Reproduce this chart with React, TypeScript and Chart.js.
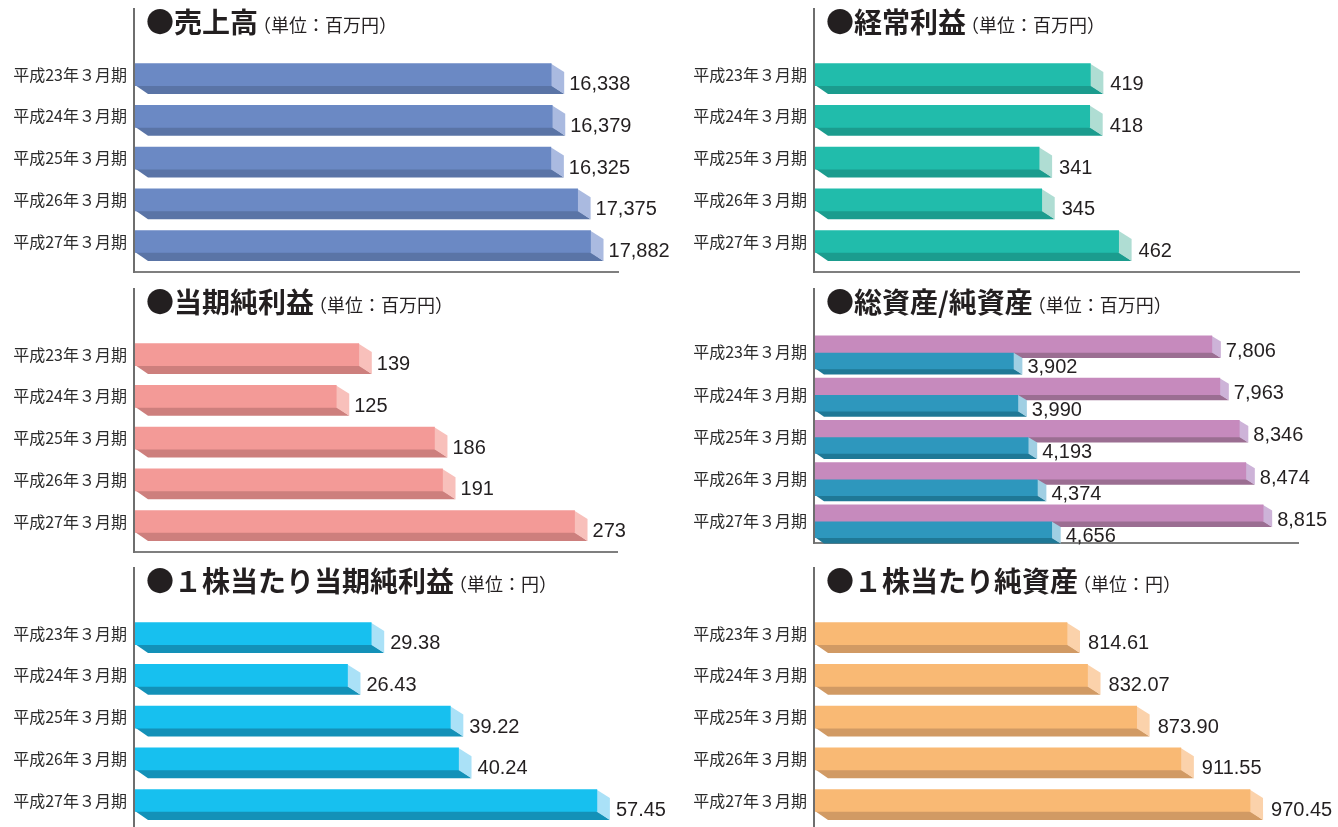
import React, { useEffect, useRef } from "react";
import { Chart, registerables } from "chart.js";

Chart.register(...registerables);

// ---------- data ----------
const periods = ["平成23年３月期", "平成24年３月期", "平成25年３月期", "平成26年３月期", "平成27年３月期"];
const sales = [16338, 16379, 16325, 17375, 17882];
const ordinaryIncome = [419, 418, 341, 345, 462];
const netIncome = [139, 125, 186, 191, 273];
const totalAssets = [7806, 7963, 8346, 8474, 8815];
const netAssets = [3902, 3990, 4193, 4374, 4656];
const epsValues = [29.38, 26.43, 39.22, 40.24, 57.45];
const bpsValues = [814.61, 832.07, 873.9, 911.55, 970.45];

const titles = ["●売上高", "●経常利益", "●当期純利益", "●総資産/純資産", "●１株当たり当期純利益", "●１株当たり純資産"];
const units = ["（単位：百万円）", "（単位：百万円）", "（単位：百万円）", "（単位：百万円）", "（単位：円）", "（単位：円）"];

// ---------- styles / layout ----------
type Series = { label: string; data: number[]; front: string; side: string; bottom: string };
type PanelCfg = {
  left: number;
  top: number;
  axisX: number;
  plotRight: number;
  title: string;
  unit: string;
  series: Series[];
  min: number;
  max: number;
  barThickness: number;
  dx: number;
  dy: number;
  decimals: number;
  bandTop: number;
  bandBottom: number;
  lineY: number;
  gap: number;
};

const W = 669;
const H = 280;

const panels: PanelCfg[] = [
  {
    left: 0, top: 0, axisX: 135, plotRight: 619, title: titles[0], unit: units[0],
    series: [{ label: "売上高", data: sales, front: "#6b89c4", side: "#aabae0", bottom: "#5a74a6" }],
    min: 0, max: 19000, barThickness: 22, dx: 13, dy: 8.5, decimals: 0,
    bandTop: 53.75, bandBottom: 266.25, lineY: 272, gap: 5,
  },
  {
    left: W, top: 0, axisX: 815, plotRight: 1300, title: titles[1], unit: units[1],
    series: [{ label: "経常利益", data: ordinaryIncome, front: "#21bcab", side: "#afddd3", bottom: "#1b9c8e" }],
    min: 0, max: 738, barThickness: 22, dx: 13, dy: 8.5, decimals: 0,
    bandTop: 53.75, bandBottom: 266.25, lineY: 272, gap: 7,
  },
  {
    left: 0, top: 280, axisX: 135, plotRight: 618, title: titles[2], unit: units[2],
    series: [{ label: "当期純利益", data: netIncome, front: "#f39a97", side: "#f8c0bb", bottom: "#cd7f7d" }],
    min: 0, max: 300, barThickness: 22, dx: 13, dy: 8.5, decimals: 0,
    bandTop: 53.75, bandBottom: 266.25, lineY: 272, gap: 5,
  },
  {
    left: W, top: 280, axisX: 815, plotRight: 1299, title: titles[3], unit: units[3],
    series: [
      { label: "総資産", data: totalAssets, front: "#c68abd", side: "#cdb3d8", bottom: "#9b6e92" },
      { label: "純資産", data: netAssets, front: "#2e97bd", side: "#a0cfe3", bottom: "#1f7896" },
    ],
    min: 0, max: 9520, barThickness: 16.5, dx: 9, dy: 5.7, decimals: 0,
    bandTop: 51.25, bandBottom: 263.75, lineY: 263, gap: 5,
  },
  {
    left: 0, top: 559, axisX: 135, plotRight: 619, title: titles[4], unit: units[4],
    series: [{ label: "EPS", data: epsValues, front: "#17c0ef", side: "#aae1f7", bottom: "#1391b8" }],
    min: 0, max: 60.2, barThickness: 22, dx: 13, dy: 8.5, decimals: 2,
    bandTop: 53.75, bandBottom: 266.25, lineY: 272, gap: 6,
  },
  {
    left: W, top: 559, axisX: 815, plotRight: 1300, title: titles[5], unit: units[5],
    series: [{ label: "BPS", data: bpsValues, front: "#f9b974", side: "#fbd2ab", bottom: "#d19a64" }],
    min: 600, max: 1013, barThickness: 22, dx: 13, dy: 8.5, decimals: 2,
    bandTop: 53.75, bandBottom: 266.25, lineY: 272, gap: 8,
  },
];

const CJK = '"Noto Sans CJK JP", "Noto Sans CJK SC", sans-serif';
const LATIN = '"Liberation Sans", Arial, Helvetica, sans-serif';

function fmt(v: number, decimals: number) {
  return v.toLocaleString("en-US", { minimumFractionDigits: decimals, maximumFractionDigits: decimals });
}

function makePlugin(cfg: PanelCfg) {
  const axisRel = cfg.axisX - cfg.left;
  return {
    id: "bars3d",
    beforeDatasetsDraw(chart: any) {
      const ctx = chart.ctx;
      const area = chart.chartArea;
      ctx.save();
      // bottom line (drawn under the bars)
      ctx.strokeStyle = "#555";
      ctx.lineWidth = 1.5;
      ctx.beginPath();
      ctx.moveTo(axisRel - 2, cfg.lineY);
      ctx.lineTo(area.right, cfg.lineY);
      ctx.stroke();
      // side and bottom faces
      cfg.series.forEach((s, di) => {
        const meta = chart.getDatasetMeta(di);
        meta.data.forEach((el: any) => {
          const { x, y, base, height } = el.getProps(["x", "y", "base", "height"], true);
          const b = Math.max(base, area.left);
          const top = y - height / 2;
          const bot = y + height / 2;
          ctx.fillStyle = s.bottom;
          ctx.beginPath();
          ctx.moveTo(b, bot - 0.5);
          ctx.lineTo(x, bot - 0.5);
          ctx.lineTo(x + cfg.dx, bot + cfg.dy);
          ctx.lineTo(b + cfg.dx, bot + cfg.dy);
          ctx.closePath();
          ctx.fill();
          ctx.fillStyle = s.side;
          ctx.beginPath();
          ctx.moveTo(x - 0.5, top);
          ctx.lineTo(x + cfg.dx, top + cfg.dy);
          ctx.lineTo(x + cfg.dx, bot + cfg.dy);
          ctx.lineTo(x - 0.5, bot);
          ctx.closePath();
          ctx.fill();
        });
      });
      ctx.restore();
    },
    afterDatasetsDraw(chart: any) {
      const ctx = chart.ctx;
      ctx.save();
      ctx.font = `20px ${LATIN}`;
      ctx.fillStyle = "#231f20";
      ctx.textAlign = "left";
      ctx.textBaseline = "alphabetic";
      cfg.series.forEach((s, di) => {
        const meta = chart.getDatasetMeta(di);
        meta.data.forEach((el: any, i: number) => {
          const { x, y } = el.getProps(["x", "y"], true);
          ctx.fillText(fmt(s.data[i], cfg.decimals), x + cfg.dx + cfg.gap, y + cfg.dy + 7);
        });
      });
      ctx.restore();
    },
    afterDraw(chart: any) {
      const ctx = chart.ctx;
      ctx.save();
      // vertical axis line
      ctx.strokeStyle = "#6e6e6e";
      ctx.lineWidth = 2;
      ctx.beginPath();
      ctx.moveTo(axisRel - 1, 8);
      ctx.lineTo(axisRel - 1, cfg.lineY + 0.75);
      ctx.stroke();
      // title
      ctx.fillStyle = "#231f20";
      ctx.textBaseline = "alphabetic";
      ctx.textAlign = "left";
      ctx.font = `bold 28px ${CJK}`;
      const tx = axisRel + 11;
      ctx.fillText(cfg.title, tx, 33);
      const tw = ctx.measureText(cfg.title).width;
      ctx.font = `18px ${CJK}`;
      ctx.fillText(cfg.unit, tx + tw - 5, 32);
      ctx.restore();
    },
  };
}

function Panel({ cfg }: { cfg: PanelCfg }) {
  const ref = useRef<HTMLCanvasElement | null>(null);
  useEffect(() => {
    if (!ref.current) return;
    const axisRel = cfg.axisX - cfg.left;
    const rightPad = W - (cfg.plotRight - cfg.left);
    const chart = new Chart(ref.current, {
      type: "bar",
      data: {
        labels: periods,
        datasets: cfg.series.map((s) => ({
          label: s.label,
          data: s.data,
          base: cfg.min,
          backgroundColor: s.front,
          borderWidth: 0,
          barThickness: cfg.barThickness,
        })),
      },
      options: {
        indexAxis: "y",
        responsive: false,
        maintainAspectRatio: false,
        animation: false,
        layout: { padding: { left: 0, right: rightPad, top: cfg.bandTop, bottom: H - cfg.bandBottom } },
        plugins: { legend: { display: false }, tooltip: { enabled: false }, title: { display: false } },
        scales: {
          x: { display: false, min: cfg.min, max: cfg.max, beginAtZero: false },
          y: {
            grid: { display: false, drawTicks: false },
            border: { display: false },
            ticks: { padding: 8, color: "#2b2b2b", font: { family: CJK, size: 16 }, autoSkip: false },
            afterFit: (scale: any) => {
              scale.width = axisRel;
            },
          },
        },
      } as any,
      plugins: [makePlugin(cfg)],
    });
    return () => chart.destroy();
  }, [cfg]);
  return (
    <canvas
      ref={ref}
      width={W}
      height={H}
      style={{ position: "absolute", left: cfg.left, top: cfg.top, width: W, height: H }}
    />
  );
}

export default function App() {
  return (
    <div style={{ position: "fixed", left: 0, top: 0, width: 1338, height: 827, overflow: "hidden", background: "#fff" }}>
      {panels.map((p, i) => (
        <Panel key={i} cfg={p} />
      ))}
    </div>
  );
}
